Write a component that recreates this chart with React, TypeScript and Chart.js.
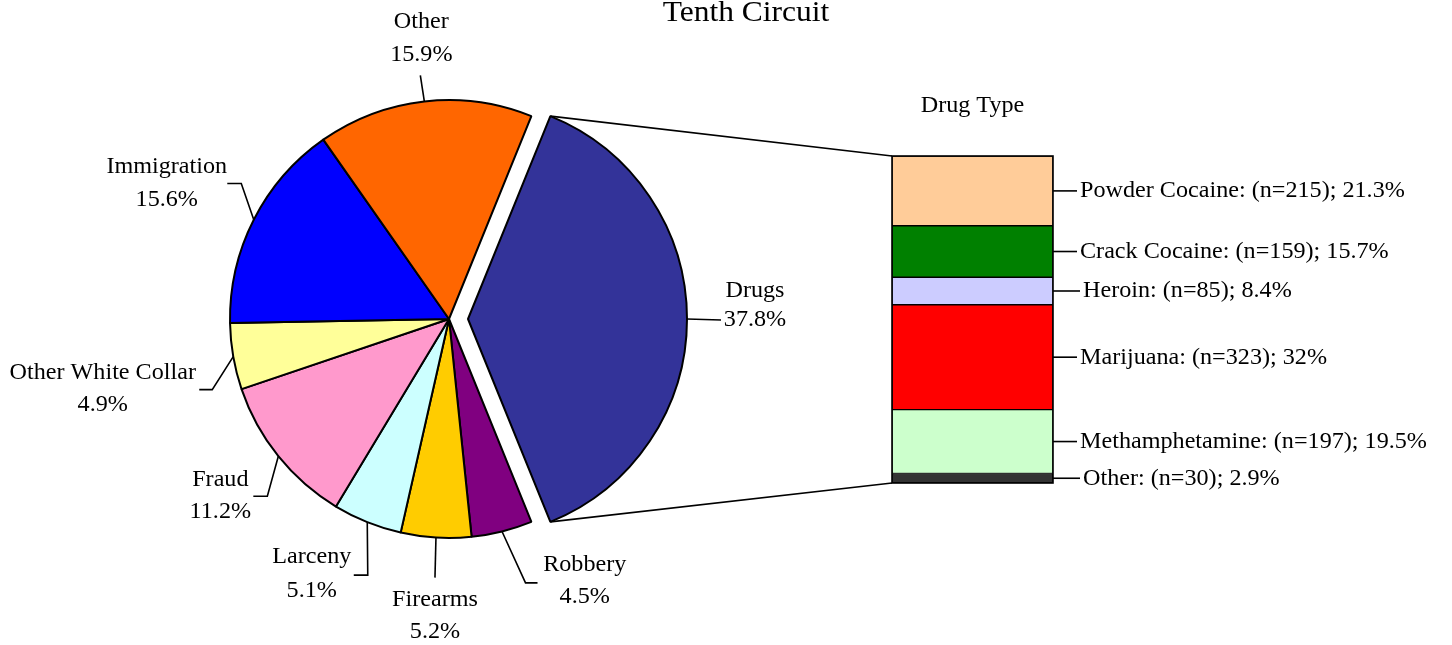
import React, { useEffect, useRef } from "react";
import { Chart, registerables } from "chart.js";

Chart.register(...registerables);

// ---------- data ----------
const chartTitle = "Tenth Circuit";
const offenseTypes = ["Drugs", "Robbery", "Firearms", "Larceny", "Fraud", "Other White Collar", "Immigration", "Other"];
const offensePercents = [37.8, 4.5, 5.2, 5.1, 11.2, 4.9, 15.6, 15.9];
const offenseColors = ["#333399", "#800080", "#FFCC00", "#CCFFFF", "#FF99CC", "#FFFF99", "#0000FF", "#FF6600"];

const drugTitle = "Drug Type";
// listed top to bottom as stacked in the bar
const drugTypes = ["Powder Cocaine", "Crack Cocaine", "Heroin", "Marijuana", "Methamphetamine", "Other"];
const drugCounts = [215, 159, 85, 323, 197, 30];
const drugPercents = [21.3, 15.7, 8.4, 32, 19.5, 2.9];
const drugColors = ["#FFCC99", "#008000", "#CCCCFF", "#FF0000", "#CCFFCC", "#333333"];

// ---------- layout ----------
const W = 1452;
const H = 645;
const PIE_CENTER = { x: 449, y: 319 };
const PIE_RADIUS = 219;
const EXPLODE = 19;
const BAR_BOX = { left: 892, right: 1053, top: 156, bottom: 483 };
const FONT_FAMILY = '"Liberation Serif", "Times New Roman", serif';
const LABEL_SIZE = 23;
const TITLE_SIZE = 30;
const TEXT_STRETCH = 1.05;

// leader polyline points and text (centerX, baseline1, baseline2), relative to each slice's outer mid point
const pieLabelLayout = [
  { leader: [[34, 1]], text: [68, -22, 7] },
  { leader: [[23.5, 51.4], [35.5, 51.4]], text: [82.7, 40, 71.7] },
  { leader: [[-1, 40]], text: [-1, 68.4, 100.4] },
  { leader: [[0.5, 53], [-13.5, 53]], text: [-55.5, 40.8, 74.8] },
  { leader: [[-11, 40], [-25, 40]], text: [-58, 29.7, 62] },
  { leader: [[-21, 33], [-34, 33]], text: [-130.5, 22, 54] },
  { leader: [[-12.5, -36.3], [-26.5, -36.3]], text: [-87, -47, -14] },
  { leader: [[-4, -26]], text: [-3, -73, -40] },
];
const barLabelNudge = [0, 0, 3, 0, 0, 3];

function drawText(ctx: CanvasRenderingContext2D, text: string, x: number, y: number, size: number, align: CanvasTextAlign) {
  ctx.save();
  ctx.font = `${size}px ${FONT_FAMILY}`;
  ctx.fillStyle = "#000";
  ctx.textAlign = align;
  ctx.textBaseline = "alphabetic";
  ctx.translate(x, y);
  ctx.scale(TEXT_STRETCH, 1);
  ctx.fillText(text, 0, 0);
  ctx.restore();
}

export default function App() {
  const pieRef = useRef<HTMLCanvasElement>(null);
  const barRef = useRef<HTMLCanvasElement>(null);

  useEffect(() => {
    const total = offensePercents.reduce((a, b) => a + b, 0);
    const drugAngle = (offensePercents[0] / total) * 360;
    const rotation = 90 - drugAngle / 2;

    const explodePlugin = {
      id: "explode",
      afterDatasetUpdate(chart: any, args: any) {
        const arc: any = args.meta.data[0];
        if (!arc) return;
        const mid = (arc.startAngle + arc.endAngle) / 2;
        arc.x = arc.x + EXPLODE * Math.cos(mid);
        arc.y = arc.y + EXPLODE * Math.sin(mid);
      },
    };

    const pieLabels = {
      id: "pieLabels",
      afterDraw(chart: any) {
        const ctx: CanvasRenderingContext2D = chart.ctx;
        const meta = chart.getDatasetMeta(0);
        ctx.save();
        ctx.strokeStyle = "#000";
        ctx.lineWidth = 1.6;
        meta.data.forEach((arc: any, i: number) => {
          const mid = (arc.startAngle + arc.endAngle) / 2;
          const px = arc.x + arc.outerRadius * Math.cos(mid);
          const py = arc.y + arc.outerRadius * Math.sin(mid);
          const L = pieLabelLayout[i];
          ctx.beginPath();
          ctx.moveTo(px, py);
          L.leader.forEach(([dx, dy]) => ctx.lineTo(px + dx, py + dy));
          ctx.stroke();
          drawText(ctx, offenseTypes[i], px + L.text[0], py + L.text[1], LABEL_SIZE, "center");
          drawText(ctx, `${offensePercents[i]}%`, px + L.text[0], py + L.text[2], LABEL_SIZE, "center");
        });
        drawText(ctx, chartTitle, 746, 21, TITLE_SIZE, "center");
        ctx.restore();
      },
    };

    const pie = new Chart(pieRef.current as HTMLCanvasElement, {
      type: "pie",
      data: {
        labels: offenseTypes,
        datasets: [
          {
            data: offensePercents,
            backgroundColor: offenseColors,
            borderColor: "#000",
            borderWidth: 2,
            radius: PIE_RADIUS,
            rotation,
          } as any,
        ],
      },
      options: {
        responsive: false,
        animation: false,
        events: [],
        rotation,
        radius: PIE_RADIUS,
        layout: {
          padding: { left: 0, top: 0, right: W - 2 * PIE_CENTER.x, bottom: H - 2 * PIE_CENTER.y },
        },
        plugins: { legend: { display: false }, tooltip: { enabled: false }, title: { display: false } },
      } as any,
      plugins: [explodePlugin, pieLabels],
    });

    const drugTotal = drugPercents.reduce((a, b) => a + b, 0);
    const order = drugTypes.map((_, i) => i).reverse(); // bottom first for stacking

    const barDecor = {
      id: "barDecor",
      afterDraw(chart: any) {
        const ctx: CanvasRenderingContext2D = chart.ctx;
        ctx.save();
        ctx.strokeStyle = "#000";
        ctx.lineWidth = 1.6;
        let barTop = Infinity;
        let barBottom = -Infinity;
        let barLeft = 0;
        let barRight = 0;
        let barCenter = 0;
        order.forEach((drugIdx, dsIdx) => {
          const el: any = chart.getDatasetMeta(dsIdx).data[0];
          const top = Math.min(el.y, el.base);
          const bottom = Math.max(el.y, el.base);
          barTop = Math.min(barTop, top);
          barBottom = Math.max(barBottom, bottom);
          barLeft = el.x - el.width / 2;
          barRight = el.x + el.width / 2;
          barCenter = el.x;
          const right = barRight;
          const cy = (top + bottom) / 2;
          const n = barLabelNudge[drugIdx];
          ctx.beginPath();
          ctx.moveTo(right, cy);
          ctx.lineTo(right + 24 + n, cy);
          ctx.stroke();
          drawText(
            ctx,
            `${drugTypes[drugIdx]}: (n=${drugCounts[drugIdx]}); ${drugPercents[drugIdx]}%`,
            right + 27 + n,
            cy + 6.5,
            LABEL_SIZE,
            "left"
          );
        });
        // outline of the whole bar
        ctx.strokeRect(barLeft, barTop, barRight - barLeft, barBottom - barTop);
        drawText(ctx, drugTitle, barCenter, barTop - 44, LABEL_SIZE, "center");
        // connector lines from exploded slice to bar
        const arc: any = pie.getDatasetMeta(0).data[0];
        if (arc) {
          const r = arc.outerRadius;
          ctx.beginPath();
          ctx.moveTo(arc.x + r * Math.cos(arc.startAngle), arc.y + r * Math.sin(arc.startAngle));
          ctx.lineTo(barLeft, barTop);
          ctx.moveTo(arc.x + r * Math.cos(arc.endAngle), arc.y + r * Math.sin(arc.endAngle));
          ctx.lineTo(barLeft, barBottom);
          ctx.stroke();
        }
        ctx.restore();
      },
    };

    const bar = new Chart(barRef.current as HTMLCanvasElement, {
      type: "bar",
      data: {
        labels: [drugTitle],
        datasets: order.map((i) => ({
          label: drugTypes[i],
          data: [drugPercents[i]],
          backgroundColor: drugColors[i],
          borderColor: "#000",
          borderWidth: 1,
          borderSkipped: false,
          barPercentage: 1,
          categoryPercentage: 1,
        })) as any,
      },
      options: {
        responsive: false,
        animation: false,
        events: [],
        layout: {
          padding: {
            left: BAR_BOX.left,
            right: W - BAR_BOX.right,
            top: BAR_BOX.top,
            bottom: H - BAR_BOX.bottom,
          },
        },
        scales: {
          x: { stacked: true, display: false },
          y: { stacked: true, display: false, min: 0, max: drugTotal },
        },
        plugins: { legend: { display: false }, tooltip: { enabled: false }, title: { display: false } },
      } as any,
      plugins: [barDecor],
    });

    return () => {
      bar.destroy();
      pie.destroy();
    };
  }, []);

  return (
    <div style={{ position: "fixed", left: 0, top: 0, width: W, height: H, background: "#fff" }}>
      <canvas ref={pieRef} width={W} height={H} style={{ position: "absolute", left: 0, top: 0, width: W, height: H }} />
      <canvas ref={barRef} width={W} height={H} style={{ position: "absolute", left: 0, top: 0, width: W, height: H }} />
    </div>
  );
}
